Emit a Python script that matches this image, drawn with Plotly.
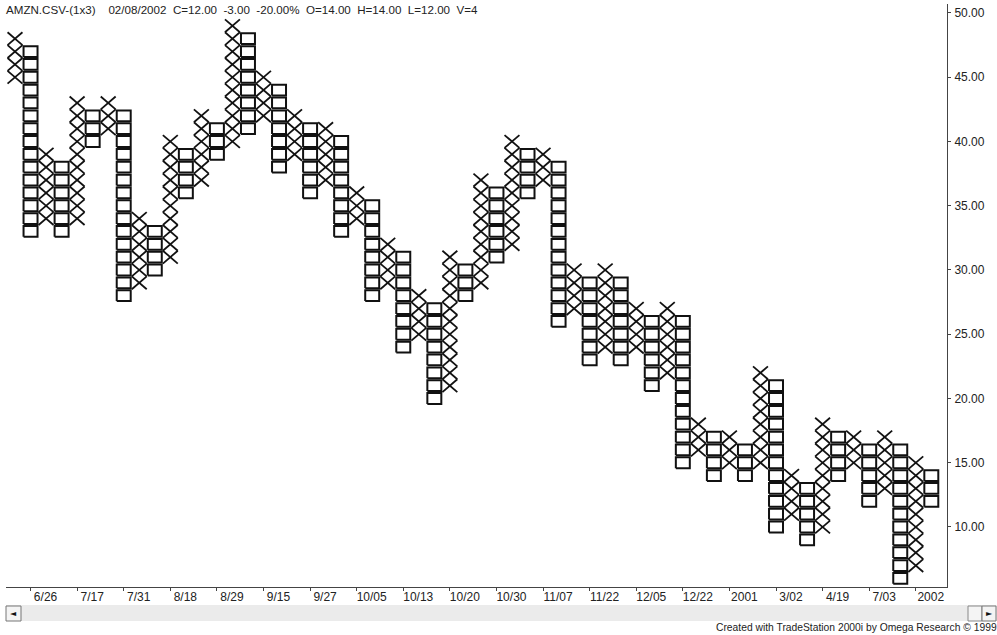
import plotly.graph_objects as go

# Point & figure columns (box size 1, 3-box reversal)
col_kind = ["X", "O"] * 30
col_low = [45, 33, 34, 33, 34, 40, 41, 28, 29, 30,
           31, 36, 37, 39, 40, 41, 42, 38, 39, 36,
           37, 33, 34, 28, 29, 24, 25, 20, 21, 28,
           29, 31, 32, 36, 37, 26, 27, 23, 24, 23,
           24, 21, 22, 15, 16, 14, 15, 14, 15, 10,
           11, 9, 10, 14, 15, 12, 13, 6, 7, 12]
col_high = [48, 47, 39, 38, 43, 42, 43, 42, 34, 33,
            40, 39, 42, 41, 49, 48, 45, 44, 42, 41,
            41, 40, 36, 35, 32, 31, 28, 27, 31, 30,
            37, 36, 40, 39, 39, 38, 30, 29, 30, 29,
            27, 26, 27, 26, 18, 17, 17, 16, 22, 21,
            14, 13, 18, 17, 17, 16, 17, 16, 15, 14]

tick_cols = [1, 4, 7, 10, 13, 16, 19, 22, 25, 28, 31, 34, 37, 40, 43, 46, 49, 52, 55, 58]
tick_labels = ["6/26", "7/17", "7/31", "8/18", "8/29", "9/15", "9/27", "10/05", "10/13", "10/20",
               "10/30", "11/07", "11/22", "12/05", "12/22", "2001", "3/02", "4/19", "7/03", "2002"]
price_ticks = [10, 15, 20, 25, 30, 35, 40, 45, 50]

header = "AMZN.CSV-(1x3)&nbsp;&nbsp;&nbsp;&nbsp;02/08/2002&nbsp;&nbsp;C=12.00&nbsp;&nbsp;-3.00&nbsp;&nbsp;-20.00%&nbsp;&nbsp;O=14.00&nbsp;&nbsp;H=14.00&nbsp;&nbsp;L=12.00&nbsp;&nbsp;V=4"
footer = "Created with TradeStation 2000i by Omega Research © 1999"

W, H = 997, 635
ML, MR, MT, MB = 6, 50, 4, 48
PW = W - ML - MR
PH = H - MT - MB

# build X strokes and O boxes from the column data
xs_x, ys_x, xs_o, ys_o = [], [], [], []
hw_x, hw_o, hh_o = 0.48, 0.45, 0.42
for c, (k, lo, hi) in enumerate(zip(col_kind, col_low, col_high)):
    for v in range(lo, hi + 1):
        if k == "X":
            xs_x += [c - hw_x, c + hw_x, None, c - hw_x, c + hw_x, None]
            ys_x += [v - 0.5, v + 0.5, None, v + 0.5, v - 0.5, None]
        else:
            xs_o += [c - hw_o, c + hw_o, c + hw_o, c - hw_o, c - hw_o, None]
            ys_o += [v - hh_o, v - hh_o, v + hh_o, v + hh_o, v - hh_o, None]

fig = go.Figure()
fig.add_trace(go.Scatter(x=xs_x, y=ys_x, mode="lines", line=dict(color="#111", width=1.8),
                         hoverinfo="skip", showlegend=False))
fig.add_trace(go.Scatter(x=xs_o, y=ys_o, mode="lines", line=dict(color="#111", width=2),
                         hoverinfo="skip", showlegend=False))

font = dict(family="Liberation Sans, Arial, sans-serif", size=12, color="#222")
head_font = dict(family="Liberation Sans, Arial, sans-serif", size=11.6, color="#222")
small_font = dict(family="Liberation Sans, Arial, sans-serif", size=10.3, color="#222")


def px_x(p):
    return (p - ML) / PW


def px_y(p):
    return (H - MB - p) / PH


shapes = [
    dict(type="rect", xref="paper", yref="paper", x0=px_x(6), x1=px_x(997), y0=px_y(621), y1=px_y(605),
         fillcolor="#ebebeb", line=dict(width=0), layer="below"),
    dict(type="rect", xref="paper", yref="paper", x0=px_x(6), x1=px_x(21), y0=px_y(621), y1=px_y(606),
         fillcolor="#f4f4f4", line=dict(color="#777", width=1)),
    dict(type="rect", xref="paper", yref="paper", x0=px_x(968), x1=px_x(982), y0=px_y(621), y1=px_y(606),
         fillcolor="#f4f4f4", line=dict(color="#888", width=1)),
    dict(type="rect", xref="paper", yref="paper", x0=px_x(982), x1=px_x(996), y0=px_y(621), y1=px_y(606),
         fillcolor="#f4f4f4", line=dict(color="#777", width=1)),
]

annotations = [
    dict(text=header, xref="paper", yref="paper", x=px_x(4), y=px_y(10), xanchor="left", yanchor="middle",
         showarrow=False, font=head_font),
    dict(text=footer, xref="paper", yref="paper", x=px_x(714), y=px_y(627), xanchor="left", yanchor="middle",
         showarrow=False, font=small_font),
    dict(text="◄", xref="paper", yref="paper", x=px_x(13.5), y=px_y(613.5), xanchor="center", yanchor="middle",
         showarrow=False, font=dict(family="DejaVu Sans", size=8, color="#111")),
    dict(text="►", xref="paper", yref="paper", x=px_x(989), y=px_y(613.5), xanchor="center", yanchor="middle",
         showarrow=False, font=dict(family="DejaVu Sans", size=8, color="#111")),
]

fig.update_layout(
    width=W, height=H,
    margin=dict(l=ML, r=MR, t=MT, b=MB),
    paper_bgcolor="white", plot_bgcolor="white",
    shapes=shapes, annotations=annotations,
    font=font,
    xaxis=dict(range=[-0.58, 60.01], showgrid=False, zeroline=False,
               tickvals=tick_cols, ticktext=tick_labels, ticks="outside", ticklen=3,
               tickcolor="#444", showline=True, linecolor="#444", linewidth=1,
               ticklabelshift=15, ticklabelstandoff=-4, tickfont=font, fixedrange=True),
    yaxis=dict(range=[5.33, 50.70], side="right", showgrid=False, zeroline=False,
               tickvals=price_ticks, tickformat=".2f", ticks="outside", ticklen=3,
               tickcolor="#444", showline=True, linecolor="#444", linewidth=1,
               ticklabelstandoff=1, tickfont=font, fixedrange=True),
)

fig.write_html("out.html", config={"displayModeBar": False},
               post_script="document.body.style.margin='0';document.body.style.overflow='hidden';")
